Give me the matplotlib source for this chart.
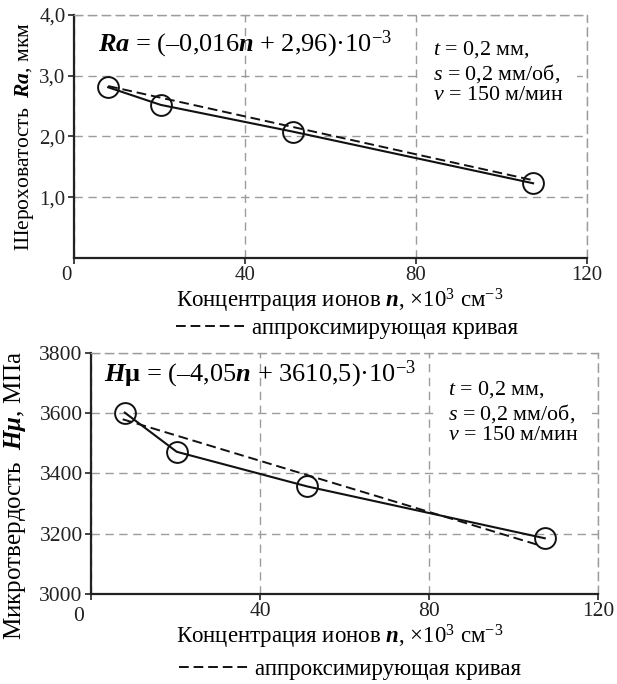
import matplotlib
matplotlib.use('Agg')
import matplotlib.pyplot as plt
import matplotlib.transforms as mtransforms

# measured points (ion concentration, x10^3 cm^-3)
n_vals = [8, 20.3, 51.2, 107.4]
ra_vals = [2.81, 2.52, 2.08, 1.23]
hmu_vals = [3602, 3472, 3357, 3185]

# approximating lines (end points)
ra_fit_n = [8, 107.4]
ra_fit = [2.83, 1.28]
hmu_fit_n = [7.5, 106.5]
hmu_fit = [3580, 3160]

x_ticks = [0, 40, 80, 120]
x_tick_labels = ['0', '40', '80', '120']
ra_ticks = [1.0, 2.0, 3.0, 4.0]
ra_tick_labels = ['1,0', '2,0', '3,0', '4,0']
hmu_ticks = [3000, 3200, 3400, 3600, 3800]
hmu_tick_labels = ['3000', '3200', '3400', '3600', '3800']

xlabel = 'Концентрация ионов $\\mathbfit{n}$, ×10$^{3}$ см$^{-3}$'
fit_label = 'аппроксимирующая кривая'
params = '$\\mathit{t}$ = 0,2 мм,\n$\\mathit{s}$ = 0,2 мм/об,\n$\\mathit{v}$ = 150 м/мин'

plt.rcParams['font.family'] = ['Liberation Serif', 'DejaVu Serif']
plt.rcParams['mathtext.fontset'] = 'custom'
plt.rcParams['mathtext.rm'] = 'Liberation Serif'
plt.rcParams['mathtext.it'] = 'Liberation Serif:italic'
plt.rcParams['mathtext.bf'] = 'Liberation Serif:bold'
plt.rcParams['mathtext.bfit'] = 'Liberation Serif:bold:italic'

GRID = '#9c9c9c'
DASH = (0, (6, 4))

fig = plt.figure(figsize=(6.17, 6.84), dpi=100)
ax1 = fig.add_axes([0.1199, 0.6228, 0.8314, 0.3553])
ax2 = fig.add_axes([0.1475, 0.1316, 0.8217, 0.3523])


def style(ax, yticks, ylabels, ylim, fs, zero_dx, zero_dy):
    ax.set_xlim(0, 120)
    ax.set_ylim(*ylim)
    ax.set_xticks(x_ticks)
    ax.set_xticklabels(x_tick_labels)
    ax.set_yticks(yticks)
    ax.set_yticklabels(ylabels)
    ax.tick_params(labelsize=fs, direction='out', length=4, width=1.2, colors='#222222', pad=2)
    ax.grid(True, color=GRID, lw=1.0, linestyle=DASH)
    for s in ['left', 'bottom']:
        ax.spines[s].set_linewidth(1.6)
        ax.spines[s].set_color('#222222')
    for s in ['top', 'right']:
        ax.spines[s].set_color(GRID)
        ax.spines[s].set_linestyle(DASH)
        ax.spines[s].set_linewidth(1.0)
    # the origin "0" sits a little left of (and below) the axis corner
    lbl = ax.get_xticklabels()[0]
    shift = mtransforms.ScaledTranslation(zero_dx / 100, zero_dy / 100, fig.dpi_scale_trans)
    lbl.set_transform(lbl.get_transform() + shift)


# --- top: roughness
style(ax1, ra_ticks, ra_tick_labels, (0, 4), 15, -8, 0)
ax1.plot(n_vals, ra_vals, color='#111111', lw=1.5, marker='o', ms=15, mfc='none', mew=1.4)
fit1, = ax1.plot(ra_fit_n, ra_fit, color='#111111', lw=1.4, linestyle=(0, (5, 2.5)))
ax1.text(5.6, 3.52, '$\\mathbfit{Ra}$ = (–0,016$\\mathbfit{n}$ + 2,96)·10$^{-3}$',
         fontsize=19, va='center', ha='left')
ax1.text(84, 3.06, params, fontsize=15.8, va='center', ha='left', linespacing=1.1, zorder=2,
         bbox=dict(boxstyle='square,pad=0.6', fc='white', ec='none'))
ax1.set_xlabel(xlabel, fontsize=16.5)
ax1.xaxis.set_label_coords(0.518, -0.12)
ax1.set_ylabel('Шероховатость  $\\mathbfit{Ra}$, мкм', fontsize=15.5)
ax1.yaxis.set_label_coords(-0.074, 0.5)
ax1.legend(handles=[fit1], labels=[fit_label], loc='center', bbox_to_anchor=(0.532, -0.29),
           frameon=False, fontsize=16.5, handlelength=3.0, handletextpad=0.3)

# --- bottom: microhardness
style(ax2, hmu_ticks, hmu_tick_labels, (3000, 3800), 15.5, -12, -5)
ax2.plot(n_vals, hmu_vals, color='#111111', lw=1.5, marker='o', ms=15, mfc='none', mew=1.4)
fit2, = ax2.plot(hmu_fit_n, hmu_fit, color='#111111', lw=1.4, linestyle=(0, (5, 2.5)))
ax2.text(3.1, 3728, '$\\mathbfit{H}$$\\mathbf{μ}$ = (–4,05$\\mathbfit{n}$ + 3610,5)·10$^{-3}$',
         fontsize=19, va='center', ha='left')
ax2.text(84.5, 3604, params, fontsize=15.8, va='center', ha='left', linespacing=1.1, zorder=2,
         bbox=dict(boxstyle='square,pad=0.6', fc='white', ec='none'))
ax2.set_xlabel(xlabel, fontsize=16.5)
ax2.xaxis.set_label_coords(0.491, -0.12)
ax2.set_ylabel('Микротвердость  $\\mathbfit{Hμ}$, МПа', fontsize=18)
ax2.yaxis.set_label_coords(-0.124, 0.41)
ax2.legend(handles=[fit2], labels=[fit_label], loc='center', bbox_to_anchor=(0.511, -0.315),
           frameon=False, fontsize=16.5, handlelength=3.0, handletextpad=0.3)

fig.savefig('out.png', dpi=100)
